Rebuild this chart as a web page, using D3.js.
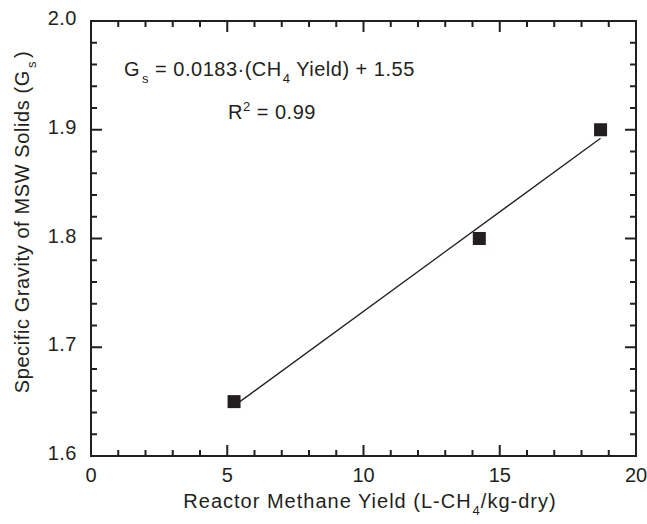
<!DOCTYPE html>
<html>
<head>
<meta charset="utf-8">
<script src="https://cdn.jsdelivr.net/npm/d3@7"></script>
<style>
  body { margin: 0; background: #fff; }
  text { font-family: "Liberation Sans", Arial, sans-serif; fill: #231f20; }
</style>
</head>
<body>
<div id="chart"></div>
<script>
// data
var yieldVals = [5.25, 14.25, 18.7];
var gravityVals = [1.65, 1.80, 1.90];
var fitSlope = 0.0183;
var fitIntercept = 1.55;
var xTicks = [0, 5, 10, 15, 20];
var yTicks = [1.6, 1.7, 1.8, 1.9, 2.0];

function init() {
  var w = 647, h = 524;
  var left = 91, right = 636, top = 21, bottom = 456;
  var ink = "#231f20";

  var x = d3.scaleLinear().domain([0, 20]).range([left, right]);
  var y = d3.scaleLinear().domain([1.6, 2.0]).range([bottom, top]);

  var svg = d3.select("#chart").append("svg")
      .attr("width", w)
      .attr("height", h);

  // minor + major ticks, all pointing inward, on all four sides
  var xMinor = d3.range(0, 20.01, 1);
  var yMinor = d3.range(0, 21).map(function(i) { return 1.6 + i * 0.02; });

  function isMajorX(v) { return Math.abs(v % 5) < 1e-6; }
  function isMajorY(v) { return Math.abs(Math.round(v * 10) - v * 10) < 1e-6; }

  var g = svg.append("g").attr("stroke", ink).attr("stroke-width", 2);

  xMinor.forEach(function(v) {
    var len = isMajorX(v) ? 11 : 6;
    g.append("line").attr("x1", x(v)).attr("x2", x(v)).attr("y1", bottom).attr("y2", bottom - len);
    g.append("line").attr("x1", x(v)).attr("x2", x(v)).attr("y1", top).attr("y2", top + len);
  });
  yMinor.forEach(function(v) {
    var len = isMajorY(v) ? 11 : 6;
    g.append("line").attr("y1", y(v)).attr("y2", y(v)).attr("x1", left).attr("x2", left + len);
    g.append("line").attr("y1", y(v)).attr("y2", y(v)).attr("x1", right).attr("x2", right - len);
  });

  // frame
  svg.append("rect")
      .attr("x", left).attr("y", top)
      .attr("width", right - left).attr("height", bottom - top)
      .attr("fill", "none").attr("stroke", ink).attr("stroke-width", 2);

  // tick labels
  svg.selectAll(".xl").data(xTicks).enter().append("text")
      .attr("x", function(d) { return x(d); })
      .attr("y", 482)
      .attr("text-anchor", "middle")
      .style("font-size", "20px")
      .text(function(d) { return d; });

  svg.selectAll(".yl").data(yTicks).enter().append("text")
      .attr("x", 77)
      .attr("y", function(d) { return y(d) + 4; })
      .attr("text-anchor", "end")
      .style("font-size", "20px")
      .style("letter-spacing", "0.5px")
      .text(function(d) { return d.toFixed(1); });

  // axis titles
  var xt = svg.append("text")
      .attr("x", 370).attr("y", 508)
      .attr("text-anchor", "middle")
      .style("font-size", "20px")
      .style("letter-spacing", "1px");
  xt.append("tspan").text("Reactor Methane Yield (L-CH");
  xt.append("tspan").attr("dy", 7).attr("dx", 1).style("font-size", "13px").text("4");
  xt.append("tspan").attr("dy", -7).text("/kg-dry)");

  var yt = svg.append("text")
      .attr("transform", "translate(29,222) rotate(-90)")
      .attr("text-anchor", "middle")
      .style("font-size", "20px")
      .style("letter-spacing", "0.6px");
  yt.append("tspan").text("Specific Gravity of MSW Solids (G");
  yt.append("tspan").attr("dy", 7).attr("dx", 2).style("font-size", "13px").text("s");
  yt.append("tspan").attr("dy", -7).attr("dx", 3).text(")");

  // fit line
  var x0 = d3.min(yieldVals), x1 = d3.max(yieldVals);
  svg.append("line")
      .attr("x1", x(x0)).attr("y1", y(fitSlope * x0 + fitIntercept))
      .attr("x2", x(x1)).attr("y2", y(fitSlope * x1 + fitIntercept))
      .attr("stroke", ink).attr("stroke-width", 1.3);

  // squares
  var pts = yieldVals.map(function(v, i) { return { x: v, y: gravityVals[i] }; });
  var s = 13;
  svg.selectAll(".pt").data(pts).enter().append("rect")
      .attr("x", function(d) { return x(d.x) - s / 2; })
      .attr("y", function(d) { return y(d.y) - s / 2; })
      .attr("width", s).attr("height", s)
      .attr("fill", ink);

  // equation annotation
  var eq = svg.append("text")
      .attr("x", 124).attr("y", 76)
      .style("font-size", "20px")
      .style("letter-spacing", "0.5px");
  eq.append("tspan").text("G");
  eq.append("tspan").attr("dy", 7).attr("dx", 2).style("font-size", "13px").text("s");
  eq.append("tspan").attr("dy", -7).text(" = 0.0183\u00b7(CH");
  eq.append("tspan").attr("dy", 7).attr("dx", 1).style("font-size", "13px").text("4");
  eq.append("tspan").attr("dy", -7).text(" Yield) + 1.55");

  var r2 = svg.append("text")
      .attr("x", 228).attr("y", 119)
      .style("font-size", "20px")
      .style("letter-spacing", "0.5px");
  r2.append("tspan").text("R");
  r2.append("tspan").attr("dy", -8).style("font-size", "13px").text("2");
  r2.append("tspan").attr("dy", 8).text(" = 0.99");
}

window.onload = init;
</script>
</body>
</html>
